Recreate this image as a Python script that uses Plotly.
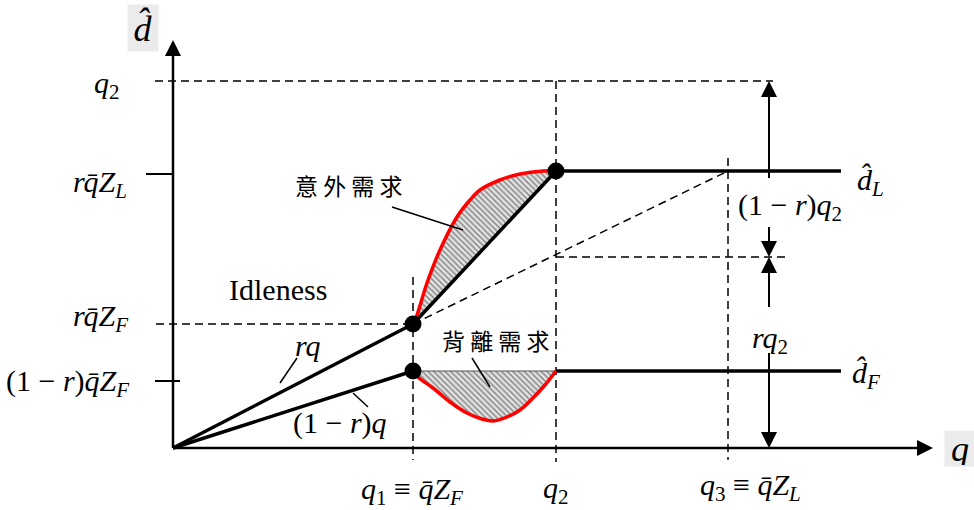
import plotly.graph_objects as go

# ---------------- schematic values (model units, origin at axes crossing) ----------------
Q1, Q2, Q3 = 240, 383, 555              # q1 = q̄Z_F, q2, q3 = q̄Z_L on the q axis
LEV_Q2 = 367                             # level q2 on the d axis
LEV_DL = 277                             # d̂_L plateau
TICK_RZL = 274                           # tick r q̄ Z_L
LEV_RZF = 124                            # r q̄ Z_F
LEV_DF = 77                              # d̂_F plateau
TICK_1RZF = 67                           # tick (1-r) q̄ Z_F
LEV_MID = 191                            # split between (1-r)q2 and r q2
END_X = 668                              # right end of plateau lines
AX_X_END, AX_Y_END = 760, 408            # axis arrow tips
ARR_X = 596                              # x of the dimension arrows

# red "unexpected demand" curve (above the rq segment)
UP_X = [240, 243, 254, 267, 284, 297, 307, 327, 347, 370, 383]
UP_Y = [124, 130, 165, 198, 231, 248, 258, 268, 274, 277, 277]
# red "divergent demand" curve (below d̂_F segment)
LO_X = [241, 245, 260, 277, 294, 309, 320, 334, 347, 360, 372, 383]
LO_Y = [77, 71, 60, 46, 35, 29, 27, 31, 38, 50, 63, 77]

SERIF = "Liberation Serif, Times New Roman, Times, serif"
CJK = "Noto Sans CJK TC"
BLK = "black"

fig = go.Figure()

def line(xs, ys, width=3.5, color=BLK, dash=None, shape="linear"):
    fig.add_trace(go.Scatter(x=xs, y=ys, mode="lines",
                             line=dict(color=color, width=width, dash=dash, shape=shape),
                             hoverinfo="skip"))

DASH = "8px,5px"

# ---- hatched areas ----
for xs, ys in [(UP_X + [Q1], UP_Y + [LEV_RZF]), (LO_X, LO_Y)]:
    fig.add_trace(go.Scatter(x=xs, y=ys, mode="lines", fill="toself",
                             line=dict(width=0), fillcolor="rgba(0,0,0,0)",
                             fillpattern=dict(shape="\\", fgcolor="#222222", bgcolor="#e2e2e2",
                                              size=4, solidity=0.35), hoverinfo="skip"))

# ---- dashed guide lines ----
line([-18, ARR_X + 4], [LEV_Q2, LEV_Q2], 1.5, dash=DASH)
line([-17, Q1], [LEV_RZF, LEV_RZF], 1.5, dash=DASH)
line([Q2, ARR_X + 16], [LEV_MID, LEV_MID], 1.5, dash=DASH)
line([Q1, Q3], [LEV_RZF, LEV_DL], 1.5, dash=DASH)
line([Q1, Q1], [171, -12], 1.5, dash=DASH)
line([Q2, Q2], [LEV_Q2, -14], 1.5, dash=DASH)
line([Q3, Q3], [290, -12], 1.5, dash=DASH)

# ---- axes ----
line([0, AX_X_END - 14], [0, 0], 2.5)
line([0, 0], [0, AX_Y_END - 14], 2.5)
line([-27, 0], [TICK_RZL, TICK_RZL], 2)
line([-18, 7], [TICK_1RZF, TICK_1RZF], 2)

# ---- thin top of lower hatch ----
line([Q1, Q2], [LEV_DF, LEV_DF], 1, color="#555555")

# ---- main thick lines ----
line([0, Q1], [0, LEV_RZF], 3.5)
line([0, Q1], [0, LEV_DF], 3.5)
line([Q1, Q2], [LEV_RZF, LEV_DL], 3.5)
line([Q2, END_X], [LEV_DL, LEV_DL], 3.5)
line([Q2, END_X], [LEV_DF, LEV_DF], 3.5)

# ---- red curves ----
line(UP_X, UP_Y, 3.5, color="#ff0000", shape="spline")
line(LO_X, LO_Y, 3.5, color="#ff0000", shape="spline")

# ---- dimension arrows (shafts) ----
line([ARR_X, ARR_X], [270, LEV_Q2 - 10], 2)
line([ARR_X, ARR_X], [221, LEV_MID + 10], 2)
line([ARR_X, ARR_X], [141, LEV_MID - 10], 2)
line([ARR_X, ARR_X], [95, 10], 2)

# leader lines
line([219, 290], [241, 218], 1.5)               # 意外需求 leader
line([299, 317], [90, 61], 1.5)                 # 背離需求 leader
line([107, 124], [65, 90], 1.5)                 # rq leader
line([180, 195], [55, 41], 1.5)                 # (1-r)q leader

# ---- arrow heads (tip at the point) ----
fig.add_trace(go.Scatter(
    x=[0, ARR_X, ARR_X, ARR_X, ARR_X, AX_X_END],
    y=[AX_Y_END, LEV_Q2, LEV_MID, LEV_MID, 0, 0],
    mode="markers",
    marker=dict(symbol=["arrow-up", "arrow-up", "arrow-down", "arrow-up", "arrow-down", "arrow-right"],
                size=16, color=BLK, line=dict(width=0)),
    hoverinfo="skip"))

# ---- dots ----
fig.add_trace(go.Scatter(x=[Q1, Q1, Q2], y=[LEV_RZF, LEV_DF, LEV_DL], mode="markers",
                         marker=dict(symbol="circle", size=17, color=BLK), hoverinfo="skip"))

# ---- text ----
QB = "<i>q\u0304</i>"
labels = [
    ("<i>q</i><sub>2</sub>", -66, 363),
    (f"<i>r</i>{QB}<i>Z</i><sub><i>L</i></sub>", -73, 264),
    (f"<i>r</i>{QB}<i>Z</i><sub><i>F</i></sub>", -73, 130),
    (f"(1 \u2212 <i>r</i>){QB}<i>Z</i><sub><i>F</i></sub>", -106, 65),
    (f"<i>q</i><sub>1</sub> \u2261 {QB}<i>Z</i><sub><i>F</i></sub>", 239, -43),
    ("<i>q</i><sub>2</sub>", Q2, -42),
    (f"<i>q</i><sub>3</sub> \u2261 {QB}<i>Z</i><sub><i>L</i></sub>", 577, -39),
    ("(1 \u2212 <i>r</i>)<i>q</i><sub>2</sub>", 617, 241),
    ("<i>rq</i><sub>2</sub>", 597, 108),
    ("<i>d\u0302</i><sub><i>L</i></sub>", 697, 266),
    ("<i>d\u0302</i><sub><i>F</i></sub>", 693, 73),
    ("Idleness", 105, 159),
    ("<i>rq</i>", 135, 103),
    ("(1 \u2212 <i>r</i>)<i>q</i>", 167, 25),
]
for txt, x, y in labels:
    fig.add_annotation(x=x, y=y, text=txt, showarrow=False, xanchor="center", yanchor="middle",
                       font=dict(family=SERIF, size=30, color=BLK))

fig.add_annotation(x=175, y=263, text="意 外 需 求", showarrow=False,
                   font=dict(family=CJK, size=23, color=BLK))
fig.add_annotation(x=322, y=108, text="背 離 需 求", showarrow=False,
                   font=dict(family=CJK, size=23, color=BLK))

# gray-boxed axis names
fig.add_annotation(x=-30, y=420, text="<i>d\u0302</i>", showarrow=False,
                   font=dict(family=SERIF, size=36, color=BLK), bgcolor="#ebebeb",
                   width=28, height=44, xanchor="center", yanchor="middle")
fig.add_annotation(x=787, y=0, text="<i>q</i>", showarrow=False,
                   font=dict(family=SERIF, size=36, color=BLK), bgcolor="#ebebeb",
                   width=28, height=33, xanchor="center", yanchor="middle")

fig.update_layout(
    width=974, height=510, margin=dict(l=0, r=0, t=0, b=0),
    paper_bgcolor="white", plot_bgcolor="white", showlegend=False,
    xaxis=dict(range=[-173, 801], visible=False, fixedrange=True),
    yaxis=dict(range=[-62, 448], visible=False, fixedrange=True),
)

fig.write_html("out.html", post_script="document.body.style.margin='0';",
               config={"displayModeBar": False})
